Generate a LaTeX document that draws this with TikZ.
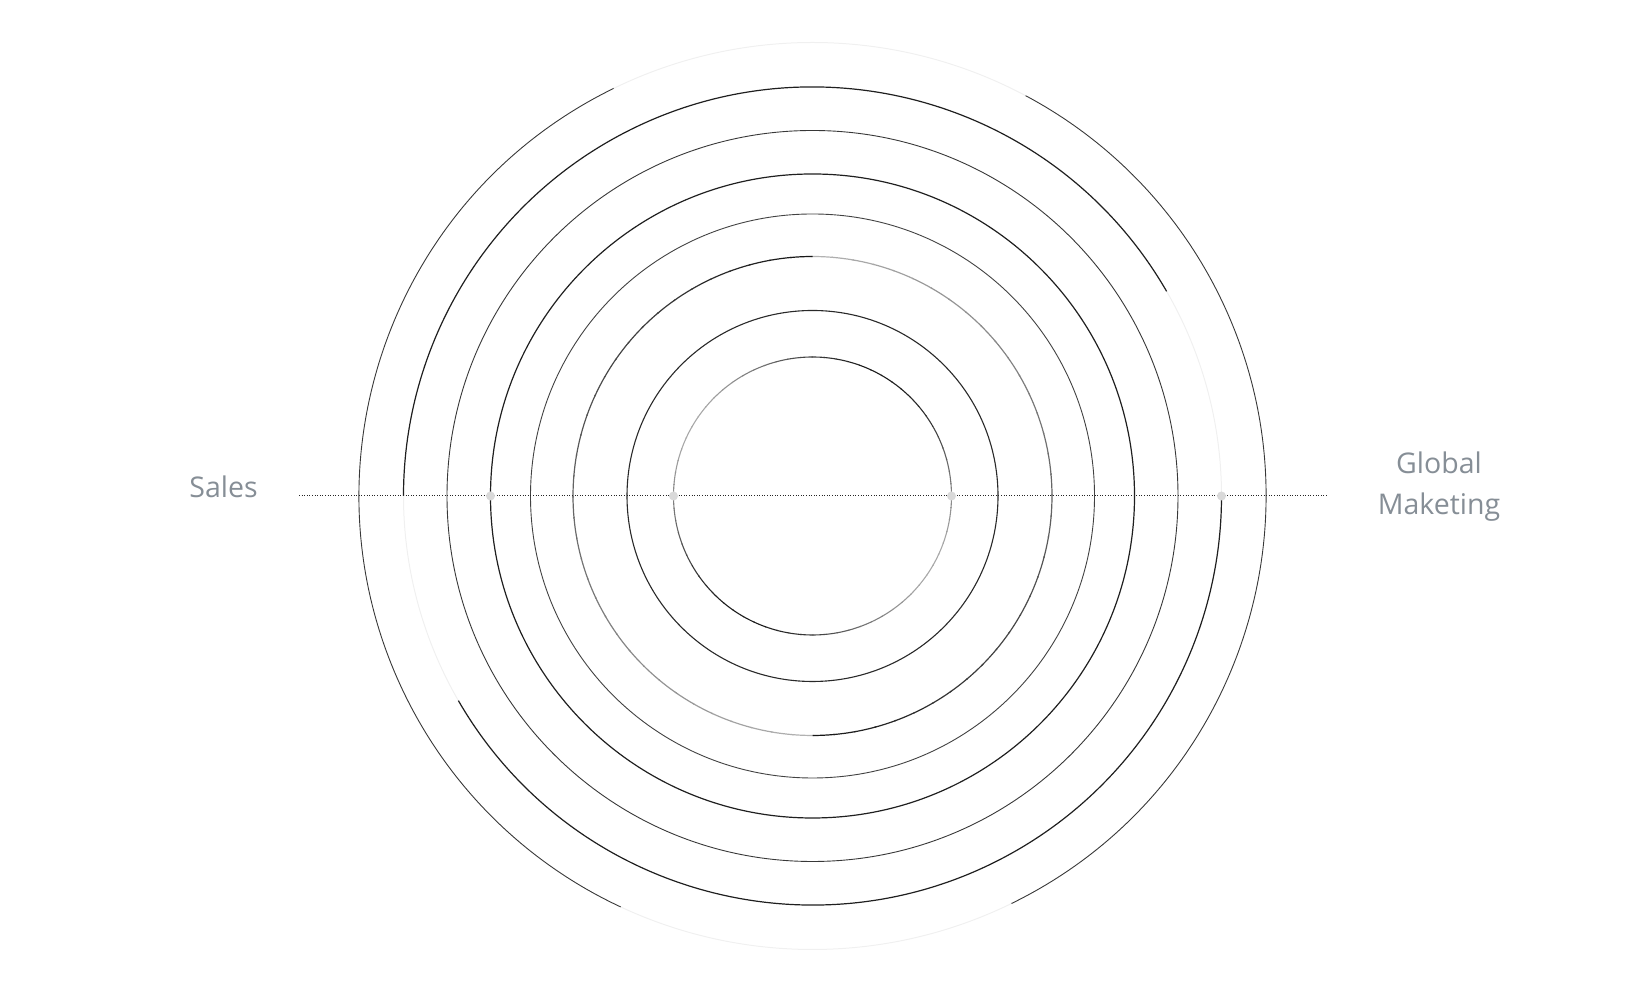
\documentclass[tikz,border=0pt]{standalone}
\usepackage{fontspec}
\setmainfont{Open Sans}

\definecolor{labelgray}{HTML}{868E96}
\definecolor{dotgray}{HTML}{D9D9D9}

\tikzset{
  ring/.style={line width=1.2pt, draw=black!88},
  thinring/.style={line width=0.9pt, draw=black!78},
  faintring/.style={line width=1pt, draw=black!6},
  divider/.style={line width=1pt, draw=black!85, dash pattern=on 1pt off 1.6pt},
  knob/.style={circle, fill=dotgray, inner sep=0pt, minimum size=9pt},
  tag/.style={text=labelgray, font=\fontsize{28.5}{41.5}\selectfont}
}

\begin{document}
\begin{tikzpicture}[x=1pt,y=1pt]
  \useasboundingbox (0,0) rectangle (1626,992);
  \coordinate (C) at (812.5,496);

  % outer ring, faded at top and bottom
  \foreach \a/\b/\s in {116/245/thinring, 296/422/thinring, 62/116/faintring, 245/296/faintring}
    \draw[\s] (C) ++(\a:453.5) arc[start angle=\a, end angle=\b, radius=453.5];

  % second ring, faded next to the axis
  \foreach \a/\b/\s in {30/180/ring, 210/360/ring, 180/210/faintring, 0/30/faintring}
    \draw[\s] (C) ++(\a:409) arc[start angle=\a, end angle=\b, radius=409];

  \draw[thinring] (C) circle[radius=365.5];
  \draw[ring] (C) circle[radius=322];
  \draw[thinring, draw=black!74] (C) circle[radius=282];

  % sixth ring, shaded
  \foreach \a in {0,5,...,355}{
    \pgfmathsetmacro{\k}{int(92-62*mod(\a+272.5,180)/180)}
    \draw[line width=1.2pt, draw=black!\k] (C) ++(\a:239.5) arc[start angle=\a, delta angle=5.4, radius=239.5];
  }

  \draw[ring, line width=1.1pt, draw=black!84] (C) circle[radius=185.5];

  % inner ring, shaded
  \foreach \a in {0,5,...,355}{
    \pgfmathsetmacro{\k}{int(62+28*cos(2*(\a-57.5)))}
    \draw[line width=1.1pt, draw=black!\k] (C) ++(\a:139) arc[start angle=\a, delta angle=5.4, radius=139];
  }

  % axis
  \coordinate (lineW) at (299,496);
  \coordinate (lineE) at (1328,496);
  \draw[divider] (lineW) -- (lineE);

  \path (C) ++(180:139) node[knob] (innerW) {};
  \path (C) ++(0:139)   node[knob] (innerE) {};
  \path (C) ++(180:322) node[knob] (midW) {};
  \path (C) ++(0:409)   node[knob] (outerE) {};

  \node[tag, anchor=base] (sales) at (223.5,494.7) {Sales};
  \node[tag, align=center] (marketing) at (1439,505.5) {Global\\Maketing};
\end{tikzpicture}
\end{document}
